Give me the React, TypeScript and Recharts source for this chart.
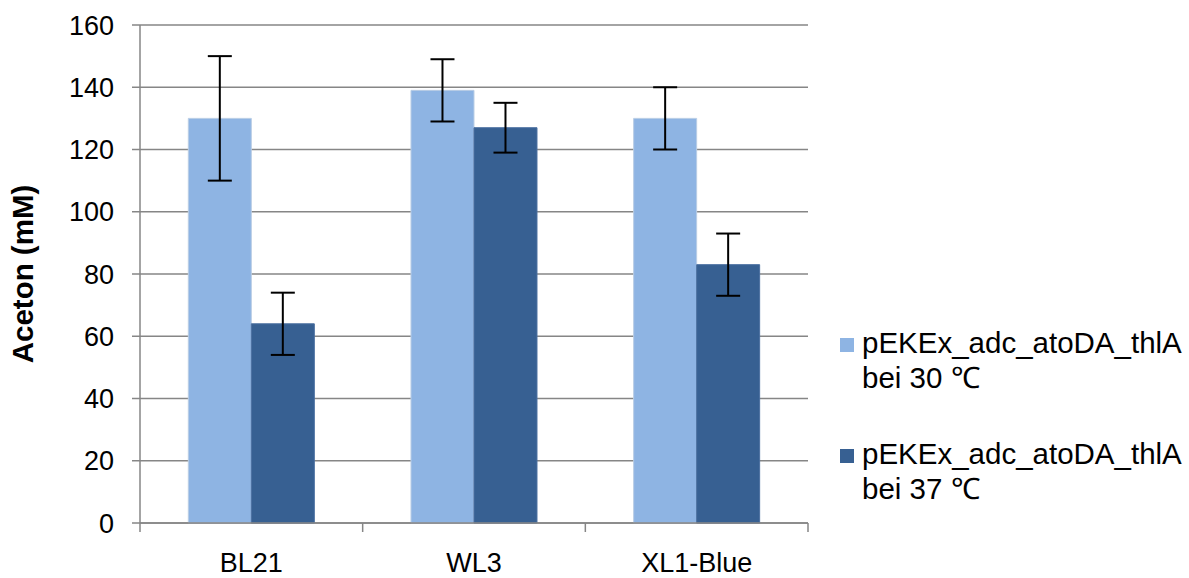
import React from 'react';
import { BarChart, Bar, XAxis, YAxis, CartesianGrid, ErrorBar } from 'recharts';

const categories = ['BL21', 'WL3', 'XL1-Blue'];
const values30 = [130, 139, 130];
const errors30 = [20, 10, 10];
const values37 = [64, 127, 83];
const errors37 = [10, 8, 10];
const yTicks = [0, 20, 40, 60, 80, 100, 120, 140, 160];
const seriesNames = ['pEKEx_adc_atoDA_thlA\nbei 30 \u2103', 'pEKEx_adc_atoDA_thlA\nbei 37 \u2103'];

const data = categories.map((c, i) => ({
  name: c,
  v30: values30[i],
  e30: errors30[i],
  v37: values37[i],
  e37: errors37[i],
}));

const FONT = '"Liberation Sans", Arial, sans-serif';
const COLORS = ['#8EB4E3', '#376092'];

const XTick = (props: any) => {
  const { x, y, payload, index } = props;
  const off = payload && typeof payload.offset === 'number' ? payload.offset : 0;
  return (
    <g>
      <line x1={x - off} x2={x - off} y1={y} y2={y + 9} stroke="#868686" strokeWidth={1.5} />
      {index === categories.length - 1 && (
        <line x1={x + off} x2={x + off} y1={y} y2={y + 9} stroke="#868686" strokeWidth={1.5} />
      )}
      <text x={x} y={y + 49} textAnchor="middle" fontSize={27} fontFamily={FONT} fill="#000">
        {payload.value}
      </text>
    </g>
  );
};

const LegendBox = () => (
  <div
    style={{
      position: 'absolute',
      left: 836,
      top: 325,
      width: 353,
      fontFamily: FONT,
      fontSize: 29.5,
      color: '#000',
      lineHeight: '35px',
    }}
  >
    {seriesNames.map((n, i) => (
      <div key={i} style={{ position: 'relative', paddingLeft: 26, marginBottom: i === 0 ? 41 : 0 }}>
        <div
          style={{
            position: 'absolute',
            left: 4,
            top: 13,
            width: 14,
            height: 14,
            background: COLORS[i],
          }}
        />
        {n.split('\n').map((line, j) => (
          <div key={j} style={{ whiteSpace: 'pre' }}>{line}</div>
        ))}
      </div>
    ))}
  </div>
);

export default function App() {
  return (
    <div style={{ position: 'absolute', left: 0, top: 0, width: 1189, height: 578, background: '#fff' }}>
      <BarChart
        width={1189}
        height={578}
        data={data}
        margin={{ top: 25, right: 381, left: 0, bottom: 0 }}
        barCategoryGap="21.7%"
        barGap={0}
      >
        <CartesianGrid vertical={false} stroke="#868686" strokeWidth={1.5} />
        <XAxis
          dataKey="name"
          height={55}
          axisLine={{ stroke: '#868686', strokeWidth: 1.5 }}
          tickLine={false}
          tickSize={0}
          tickMargin={0}
          tick={<XTick />}
          interval={0}
        />
        <YAxis
          width={140}
          domain={[0, 160]}
          ticks={yTicks}
          interval={0}
          axisLine={{ stroke: '#868686', strokeWidth: 1.5 }}
          tickLine={{ stroke: '#868686', strokeWidth: 1.5 }}
          tickSize={8}
          tickMargin={18}
          tick={{ fontSize: 27, fontFamily: FONT, fill: '#000' }}
          label={{
            value: 'Aceton (mM)',
            angle: -90,
            position: 'insideLeft',
            offset: 0,
            dx: 23,
            style: { fontSize: 29.5, fontWeight: 'bold', fontFamily: FONT, fill: '#000', textAnchor: 'middle' },
          }}
        />
        <Bar dataKey="v30" fill={COLORS[0]} stroke="#B9CDE5" strokeWidth={1} isAnimationActive={false}>
          <ErrorBar dataKey="e30" width={12} stroke="#000" strokeWidth={2} />
        </Bar>
        <Bar dataKey="v37" fill={COLORS[1]} stroke="#4A6FA0" strokeWidth={1} isAnimationActive={false}>
          <ErrorBar dataKey="e37" width={12} stroke="#000" strokeWidth={2} />
        </Bar>
      </BarChart>
      <LegendBox />
    </div>
  );
}
